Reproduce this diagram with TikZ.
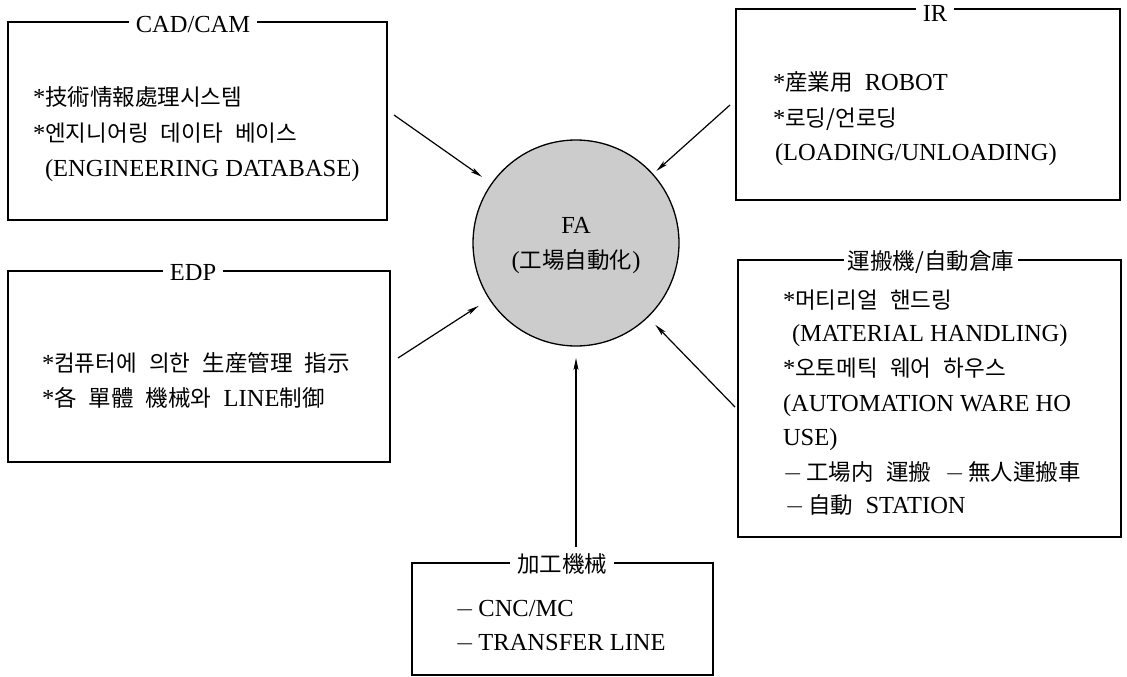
\documentclass[tikz,border=0pt]{standalone}
\usepackage{fontspec}
\setmainfont{Liberation Serif}
\newfontfamily\cjk[WordSpace=2.4]{Noto Sans CJK KR}
\usetikzlibrary{arrows.meta}
\newcommand{\K}[1]{{\cjk\fontsize{22.5}{26}\selectfont #1}}
\begin{document}
\begin{tikzpicture}[x=1pt,y=-1pt,
  every node/.style={inner sep=0pt, outer sep=0pt},
  txt/.style={anchor=base west, font=\fontsize{24.5}{28}\selectfont},
  ctr/.style={anchor=base, font=\fontsize{24.5}{28}\selectfont},
  frame/.style={draw, line width=1.3pt, anchor=north west},
  ttl/.style={fill=white, inner xsep=7pt, inner ysep=2pt, anchor=base, font=\fontsize{24.5}{28}\selectfont},
  arr/.style={line width=1.2pt, -{Stealth[length=12pt,width=5pt,inset=3pt]}}
]
\useasboundingbox (0,0) rectangle (1127,677);

% central circle
\node[circle, draw, line width=1.3pt, fill=black!20, minimum size=206pt] (fa) at (576,243) {};
\node[ctr] (fat1) at (576,233) {FA};
\node[ctr] (fat2) at (576,268) {(\K{工場自動化})};

% CAD/CAM box
\node[frame, minimum width=379pt, minimum height=198pt] (cad) at (8,22) {};
\node[ttl] (cadt) at (193,33) {CAD/CAM};
\node[txt] (cad1) at (33,105) {*\K{技術情報處理시스템}};
\node[txt] (cad2) at (33,141) {*\K{엔지니어링 데이타 베이스}};
\node[txt] (cad3) at (45,176) {(ENGINEERING DATABASE)};

% IR box
\node[frame, minimum width=384pt, minimum height=191pt] (ir) at (736,9) {};
\node[ttl] (irt) at (935,22) {IR};
\node[txt] (ir1) at (773,90) {*\K{産業用 }ROBOT};
\node[txt] (ir2) at (773,126) {*\K{로딩/언로딩}};
\node[txt] (ir3) at (775,160) {(LOADING/UNLOADING)};

% EDP box
\node[frame, minimum width=382pt, minimum height=191pt] (edp) at (8,271) {};
\node[ttl] (edpt) at (193,280) {EDP};
\node[txt] (edp1) at (42,371) {*\K{컴퓨터에 의한 生産管理 指示}};
\node[txt] (edp2) at (42,406) {*\K{各 單體 機械와 }LINE\K{制御}};

% material handling box
\node[frame, minimum width=383pt, minimum height=277pt] (mat) at (738,260) {};
\node[ttl, inner xsep=4pt] (matt) at (931,269) {\K{運搬機/自動倉庫}};
\node[txt] (mat1) at (783,308) {*\K{머티리얼 핸드링}};
\node[txt] (mat2) at (792,341) {(MATERIAL HANDLING)};
\node[txt] (mat3) at (783,376) {*\K{오토메틱 웨어 하우스}};
\node[txt] (mat4) at (783,411) {(AUTOMATION WARE HO};
\node[txt] (mat5) at (783,445) {USE)};
\node[txt] (mat6) at (783,480) {$-$\,\K{工場内 運搬}\hspace{14pt}$-$\,\K{無人運搬車}};
\node[txt] (mat7) at (785,513) {$-$\,\K{自動 }STATION};

% machining box
\node[frame, minimum width=301pt, minimum height=112pt] (bot) at (412,563) {};
\node[ttl] (bott) at (562,572) {\K{加工機械}};
\node[txt] (bot1) at (455,616) {$-$\,CNC/MC};
\node[txt] (bot2) at (455,650) {$-$\,TRANSFER LINE};

% arrow start points
\coordinate (s1) at (394,115);
\coordinate (s2) at (730,105);
\coordinate (s3) at (398,358);
\coordinate (s4) at (735,407);
\coordinate (s5) at (576,547);

\draw[arr, shorten >=12pt] (s1) -- (fa);
\draw[arr, shorten >=5pt] (s2) -- (fa);
\draw[arr, shorten >=13pt] (s3) -- (fa);
\draw[arr, shorten >=11pt] (s4) -- (fa);
\draw[arr, shorten >=12pt] (s5) -- (fa);
\end{tikzpicture}
\end{document}
